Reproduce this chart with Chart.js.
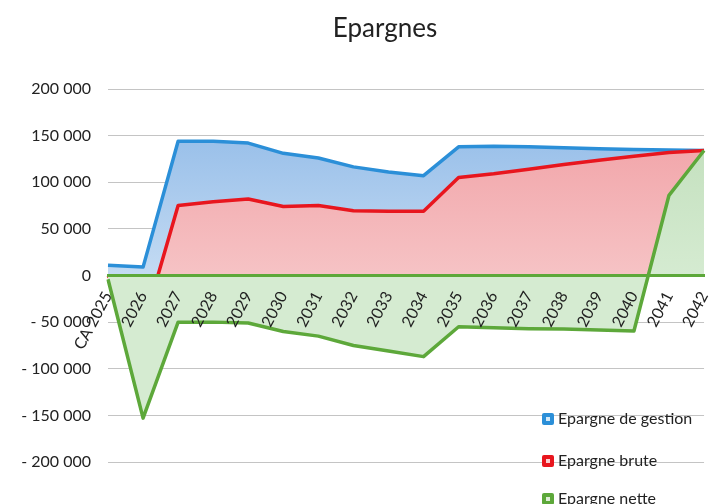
<!DOCTYPE html>
<html>
<head>
<meta charset="utf-8">
<script src="https://cdn.jsdelivr.net/npm/chart.js@4/dist/chart.umd.min.js"></script>
<style>
  body { margin: 0; background: #fff; }
  #wrap { position: relative; width: 726px; height: 504px; font-family: Lato, sans-serif; color: #222; }
  #title { position: absolute; left: 285px; width: 200px; top: 14px; text-align: center; font-size: 26px; line-height: 26px; }
  .leg { position: absolute; left: 542px; font-size: 16px; line-height: 16px; white-space: nowrap; }
  .leg span { display: inline-block; width: 12px; height: 12px; border-radius: 2px; margin-right: 4px; vertical-align: -1px; position: relative; }
  .leg span::after { content: ""; position: absolute; left: 4px; top: 4px; width: 4px; height: 4px; background: rgba(255,255,255,0.8); }
</style>
</head>
<body>
<div id="wrap">
  <canvas id="chart" width="726" height="504"></canvas>
  <div id="title">Epargnes</div>
  <div id="legend"></div>
</div>
<script>
// data
const years = ['CA 2025', '2026', '2027', '2028', '2029', '2030', '2031', '2032', '2033',
  '2034', '2035', '2036', '2037', '2038', '2039', '2040', '2041', '2042'];
const gestion = [11000, 9000, 144000, 144000, 142000, 131000, 126000, 116500, 111000,
  107000, 138000, 138500, 138000, 137000, 136000, 135000, 134500, 134000];
const brute = [0, -55000, 75000, 79000, 82000, 74000, 75000, 69500, 69000,
  69000, 105000, 109000, 114000, 119000, 123500, 128000, 132000, 134000];
const nette = [-4000, -153000, -50000, -50000, -51000, -60000, -65000, -75000, -81000,
  -87000, -55000, -56000, -57000, -57500, -58500, -59500, 86000, 134000];
const seriesNames = ['Epargne de gestion', 'Epargne brute', 'Epargne nette'];
const lineColors = ['#2b8fd8', '#e8161e', '#5da83a'];

function fmt(v) {
  const s = Math.abs(v).toString().replace(/\B(?=(\d{3})+(?!\d))/g, ' ');
  return v < 0 ? '- ' + s : s;
}

function grad(top, bottom) {
  return (c) => {
    const a = c.chart.chartArea;
    if (!a) return bottom;
    const g = c.chart.ctx.createLinearGradient(0, a.top, 0, a.bottom);
    g.addColorStop(0, top);
    g.addColorStop(0.5, bottom);
    g.addColorStop(1, bottom);
    return g;
  };
}

const ctx = document.getElementById('chart').getContext('2d');
new Chart(ctx, {
  type: 'line',
  data: {
    labels: years,
    datasets: [
      { label: seriesNames[0], data: gestion, borderColor: lineColors[0], borderWidth: 3.5,
        backgroundColor: grad('#8ab6e6', '#c4dbf3'), fill: 'origin', order: 3 },
      { label: seriesNames[1], data: brute, borderColor: lineColors[1], borderWidth: 3.5,
        backgroundColor: grad('#f09a9f', '#f6c3c5'), fill: 'origin', order: 2 },
      { label: seriesNames[2], data: nette, borderColor: lineColors[2], borderWidth: 3.5,
        backgroundColor: grad('#bddcb7', '#d5ebd1'), fill: 'origin', order: 1 }
    ]
  },
  options: {
    responsive: false,
    animation: false,
    layout: { padding: { top: 89, bottom: 42, left: 8, right: 4 } },
    elements: { point: { radius: 0 }, line: { tension: 0, borderJoinStyle: 'round' } },
    plugins: { legend: { display: false }, title: { display: false }, tooltip: { enabled: false } },
    scales: {
      x: {
        position: { y: 0 },
        offset: false,
        grid: { display: false },
        border: { display: true, color: lineColors[2], width: 3, z: 1 },
        ticks: {
          z: 1, autoSkip: false, minRotation: 62, maxRotation: 62, padding: 5,
          color: '#222', font: { family: 'Lato', size: 16 }
        }
      },
      y: {
        min: -200000, max: 200000,
        afterFit: (s) => { s.width = 100; },
        grid: { color: '#c4c4c4', lineWidth: 1, drawTicks: false },
        border: { display: false },
        ticks: {
          stepSize: 50000, padding: 17, color: '#222',
          font: { family: 'Lato', size: 16 },
          callback: (v) => fmt(v)
        }
      }
    }
  }
});

// legend, stacked at the bottom right over the plot
const legTops = [410, 452, 490];
const legend = document.getElementById('legend');
seriesNames.forEach((name, i) => {
  const d = document.createElement('div');
  d.className = 'leg';
  d.style.top = legTops[i] + 'px';
  d.innerHTML = '<span style="background:' + lineColors[i] + '"></span>' + name;
  legend.appendChild(d);
});
</script>
</body>
</html>
